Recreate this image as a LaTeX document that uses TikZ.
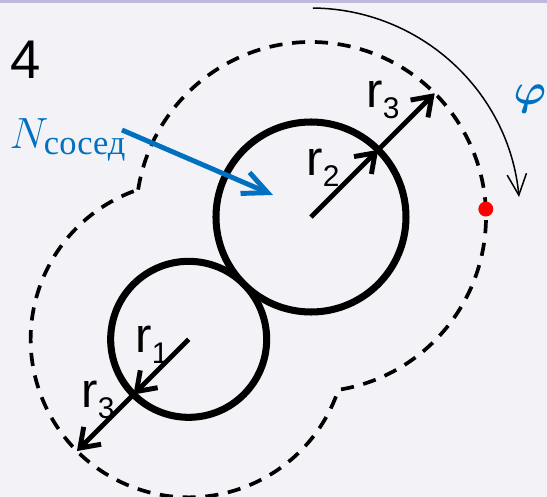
\documentclass[tikz,border=0pt]{standalone}
\usepackage{amsmath}
\usepackage{fontspec}
\setmainfont{Liberation Sans}
\newfontfamily\cyrfont{Liberation Serif}
\usetikzlibrary{calc,arrows.meta}
\definecolor{bgcol}{RGB}{242,242,247}
\definecolor{topcol}{RGB}{190,186,222}
\definecolor{nblue}{RGB}{0,112,192}
\tikzset{
    wheel/.style={line width=4pt},
    radius arrow/.style={line width=2.8pt, -{Straight Barb[length=10pt,width=14pt]}},
    envelope/.style={line width=2.1pt, dash pattern=on 7.5pt off 5.5pt},
    lbl/.style={font=\fontsize{28}{30}\selectfont, inner sep=0pt},
}
\newcommand{\rlab}[1]{r\raisebox{-0.22em}{\fontsize{17}{17}\selectfont #1}}

\begin{document}
\begin{tikzpicture}[scale=0.2]
        % background
        \useasboundingbox(0,0)rectangle(54.7,49.7);
        \path[fill=bgcol](0,0)rectangle(54.7,49.7);
        \path[fill=topcol](0,49.4)rectangle(54.7,49.7);
        % centres
        \coordinate(C2)at(31.1,28.0);
        \coordinate(C1)at($(C2)+(225:17.3)$);
        % circles
        \path[draw, wheel](C2)circle(9.5);
        \path[draw, wheel](C1)circle(7.8);
        % envelope
        \coordinate(K1)at($(C2)+(171:17.5)$);
        \path[draw, envelope](K1)arc[start angle=171, end angle=-81, radius=17.5]arc[start angle=-18.65, end angle=-251.35, radius=15.8]--cycle;
        % radii
        \coordinate(E2)at($(C2)+(45:9.5)$);
        \coordinate(F2)at($(C2)+(45:17.5)$);
        \coordinate(E1)at($(C1)+(225:7.8)$);
        \coordinate(F1)at($(C1)+(225:15.8)$);
        \path[draw, radius arrow](C2)to(E2);
        \path[draw, radius arrow](E2)to(F2);
        \path[draw, radius arrow](C1)to(E1);
        \path[draw, radius arrow](E1)to(F1);
        \node[lbl](r3a)at(38.3,39.7){\rlab{3}};
        \node[lbl](r2)at(32.3,32.9){\rlab{2}};
        \node[lbl](r1)at(15.2,15.2){\rlab{1}};
        \node[lbl](r3b)at(9.8,9.7){\rlab{3}};
        % rotation
        \coordinate(P0)at($(C2)+(89.5:20.9)$);
        \path[draw, line width=0.85pt, -{Straight Barb[length=12pt,width=11pt]}](P0)arc[start angle=89.5, end angle=5.5, radius=20.9];
        \node[lbl, font=\fontsize{32}{34}\selectfont, text=nblue](phi)at(53.0,39.8){$\boldsymbol{\varphi}$};
        \node[circle, fill=red, inner sep=0pt, minimum size=8.5pt](dot)at($(C2)+(2.6:17.5)$){};
        % neighbour
        \node[lbl, text=nblue](nsos)at(6.8,35.7){$N_{\text{\cyrfont сосед}}$};
        \coordinate(Ns)at(12.2,36.7);
        \coordinate(Nt)at(27.3,30.2);
        \path[draw, nblue, line width=2.8pt, -{Straight Barb[length=14pt,width=13pt]}](Ns)to(Nt);
        \node[lbl, font=\fontsize{31}{33}\selectfont](num)at(2.6,43.7){4};
\end{tikzpicture}
\end{document}
